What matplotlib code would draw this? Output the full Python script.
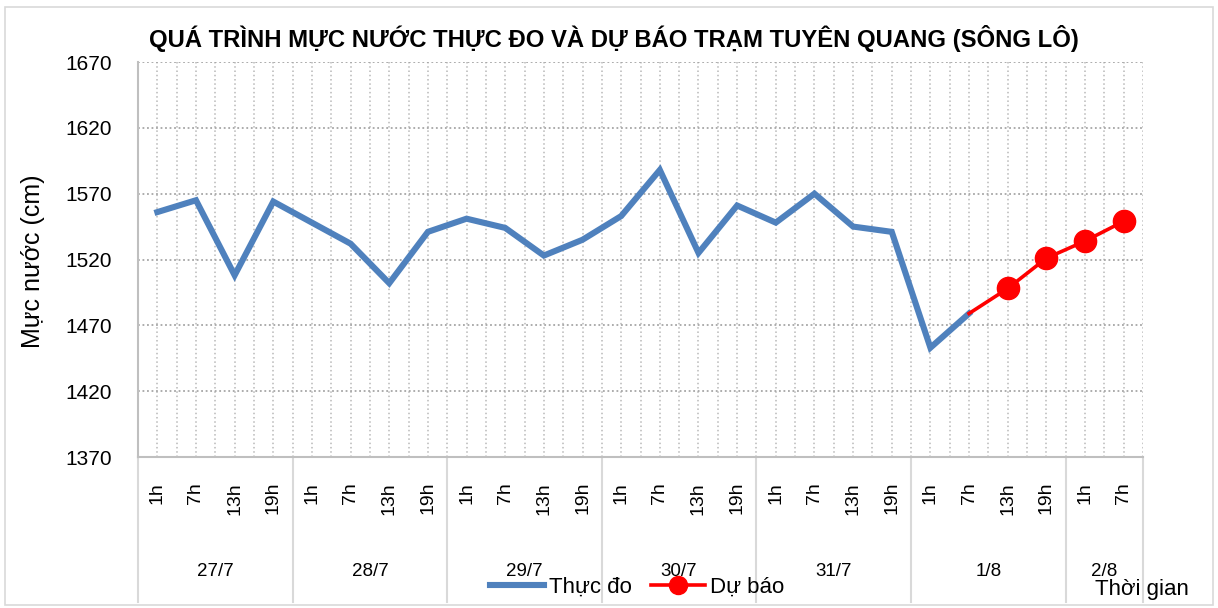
import numpy as np
import matplotlib.pyplot as plt
from matplotlib.lines import Line2D
from matplotlib.patches import Rectangle
import matplotlib.transforms as mtransforms

#---------------------data-------------------------------------------------------------------------
days = ['27/7', '28/7', '29/7', '30/7', '31/7', '1/8', '2/8']
hours_per_day = [4, 4, 4, 4, 4, 4, 2]
hour_names = ['1h', '7h', '13h', '19h']

# observed water level (cm), 27/7 1h -> 1/8 7h
observed = [1556, 1565, 1508, 1564, 1548, 1532, 1502, 1541, 1551, 1544, 1523,
            1535, 1553, 1588, 1525, 1561, 1548, 1570, 1545, 1541, 1453, 1479]
# forecast, starts at last observed point (1/8 7h) -> 2/8 7h
forecast = [1479, 1498, 1521, 1534, 1549]

title = 'QUÁ TRÌNH MỰC NƯỚC THỰC ĐO VÀ DỰ BÁO TRẠM TUYÊN QUANG (SÔNG LÔ)'

#---------------------setup------------------------------------------------------------------------
plt.rcParams['font.family'] = ['Liberation Sans', 'DejaVu Sans']
blue = '#4F81BD'
red = '#FF0000'
axis_grey = '#BFBFBF'
grid_grey = '#A6A6A6'

hour_labels = []
for n in hours_per_day:
    hour_labels += hour_names[:n]
x = np.arange(len(hour_labels))
x_obs = x[:len(observed)]
x_fc = x[len(observed) - 1:len(observed) - 1 + len(forecast)]

W, H = 1218, 608
fig = plt.figure(figsize=(W / 100, H / 100), dpi=100)
fig.patches.append(Rectangle((5 / W, 3 / H), 1208 / W, 598 / H, transform=fig.transFigure,
                             fill=False, edgecolor='#D9D9D9', lw=1.2))

left, right, top, bottom = 138, 1143, 62, 457
ax = fig.add_axes([left / W, 1 - bottom / H, (right - left) / W, (bottom - top) / H])

#---------------------lines------------------------------------------------------------------------
ax.plot(x_obs, observed, color=blue, lw=4.4, solid_joinstyle='miter', zorder=3)
ax.plot(x_fc, forecast, color=red, lw=2.6, zorder=4)
ax.plot(x_fc[1:], forecast[1:], 'o', color=red, ms=16, zorder=5)

#---------------------axes-------------------------------------------------------------------------
ax.set_xlim(-0.5, len(x) - 0.5)
ax.set_ylim(1370, 1670)
ax.set_yticks(np.arange(1370, 1671, 50))
ax.set_xticks(x)
ax.set_xticklabels(hour_labels, rotation=90, fontsize=14)
ax.set_xticks(np.arange(-0.5, len(x), 1), minor=True)
ax.tick_params(axis='x', which='both', length=0, pad=18)
ax.tick_params(axis='y', length=0, pad=18.5, labelsize=15)

ax.grid(axis='y', color=grid_grey, ls=(0, (1, 1.5)), lw=1.3)
ax.grid(axis='x', which='both', color='#B8B8B8', ls=(0, (1, 1.8)), lw=1.1)
ax.set_axisbelow(True)

for s in ['top', 'right']:
    ax.spines[s].set_visible(False)
for s in ['left', 'bottom']:
    ax.spines[s].set_color(axis_grey)
    ax.spines[s].set_linewidth(1.5)

# day groups under the hour labels
trans = mtransforms.blended_transform_factory(ax.transData, ax.transAxes)
edges = np.concatenate([[0], np.cumsum(hours_per_day)]) - 0.5
low = -(602 - bottom) / (bottom - top)
for e in edges:
    ax.plot([e, e], [0, low], color='#D9D9D9', lw=1.5, transform=trans, clip_on=False)
for d, a, b in zip(days, edges[:-1], edges[1:]):
    ax.text((a + b) / 2, -(572 - bottom) / (bottom - top), d, transform=trans,
            ha='center', va='center', fontsize=13.5)

#---------------------texts------------------------------------------------------------------------
fig.text(614 / W, 1 - 39 / H, title, ha='center', va='center', fontsize=17.2,
         fontweight='bold')
fig.text(33 / W, 1 - 261 / H, 'Mực nước (cm)', rotation=90, ha='center', va='center', fontsize=18)
fig.text(1142 / W, 1 - 590 / H, 'Thời gian', ha='center', va='center', fontsize=16)

handles = [Line2D([], [], color=blue, lw=4.4),
           Line2D([], [], color=red, lw=2.6, marker='o', ms=13)]
fig.legend(handles, ['Thực đo', 'Dự báo'], loc='center', bbox_to_anchor=(637 / W, 1 - 587 / H),
           ncol=2, frameon=False, fontsize=16, handlelength=2.43, handletextpad=0.23,
           columnspacing=0.86, borderpad=0, borderaxespad=0)

plt.savefig('out.png', dpi=100)
